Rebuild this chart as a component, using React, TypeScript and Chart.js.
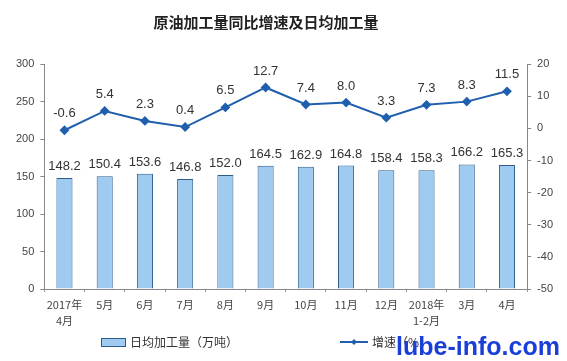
import React, { useEffect, useRef } from "react";
import { Chart, registerables } from "chart.js";

Chart.register(...registerables);

const categories: (string | string[])[] = [
  ["2017年", "4月"], "5月", "6月", "7月", "8月", "9月", "10月", "11月", "12月", ["2018年", "1-2月"], "3月", "4月",
];
const dailyOutput = [148.2, 150.4, 153.6, 146.8, 152.0, 164.5, 162.9, 164.8, 158.4, 158.3, 166.2, 165.3];
const growthRate = [-0.6, 5.4, 2.3, 0.4, 6.5, 12.7, 7.4, 8.0, 3.3, 7.3, 8.3, 11.5];
const leftTicks = [0, 50, 100, 150, 200, 250, 300];
const rightTicks = [-50, -40, -30, -20, -10, 0, 10, 20];

const TITLE = "原油加工量同比增速及日均加工量";
const BAR_LABEL = "日均加工量（万吨）";
const LINE_LABEL = "增速（%）";

const FONT = '"Liberation Sans", "Noto Sans CJK SC", sans-serif';
const CJK = '"Noto Sans CJK SC", "Liberation Sans", sans-serif';

const BAR_FILL = "#9fcbf1";
const BAR_BORDER = "#2b5d8c";
const LINE_COLOR = "#1f5fad";

const overlayPlugin = {
  id: "overlay",
  afterDatasetsDraw(chart: any) {
    const ctx = chart.ctx;
    ctx.save();
    // data labels
    ctx.fillStyle = "#333";
    ctx.font = `13px ${FONT}`;
    ctx.textAlign = "center";
    ctx.textBaseline = "bottom";
    const barMeta = chart.getDatasetMeta(0);
    barMeta.data.forEach((el: any, i: number) => {
      ctx.fillText(dailyOutput[i].toFixed(1), el.x, el.y - 5);
    });
    const lineMeta = chart.getDatasetMeta(1);
    lineMeta.data.forEach((el: any, i: number) => {
      ctx.fillText(growthRate[i].toFixed(1), el.x, el.y - 10);
    });
    // title
    ctx.fillStyle = "#222";
    ctx.font = `bold 15px ${CJK}`;
    ctx.textBaseline = "middle";
    ctx.fillText(TITLE, 266, 22);
    // legend
    const ly = 342;
    ctx.fillStyle = BAR_FILL;
    ctx.strokeStyle = BAR_BORDER;
    ctx.lineWidth = 1;
    ctx.fillRect(101, ly - 4, 24, 8);
    ctx.strokeRect(101.5, ly - 3.5, 24, 8);
    ctx.fillStyle = "#333";
    ctx.font = `12px ${CJK}`;
    ctx.textAlign = "left";
    ctx.fillText(BAR_LABEL, 130, ly);
    ctx.strokeStyle = LINE_COLOR;
    ctx.lineWidth = 2;
    ctx.beginPath();
    ctx.moveTo(340, ly);
    ctx.lineTo(368, ly);
    ctx.stroke();
    ctx.fillStyle = LINE_COLOR;
    ctx.beginPath();
    ctx.moveTo(354, ly - 3);
    ctx.lineTo(357, ly);
    ctx.lineTo(354, ly + 3);
    ctx.lineTo(351, ly);
    ctx.closePath();
    ctx.fill();
    ctx.fillStyle = "#333";
    ctx.fillText(LINE_LABEL, 372, ly);
    ctx.restore();
  },
};

export default function App() {
  const ref = useRef<HTMLCanvasElement>(null);
  useEffect(() => {
    document.body.style.margin = "0";
    const chart = new Chart(ref.current!, {
      type: "bar",
      data: {
        labels: categories,
        datasets: [
          {
            type: "bar",
            label: BAR_LABEL,
            data: dailyOutput,
            backgroundColor: BAR_FILL,
            borderColor: BAR_BORDER,
            borderWidth: 1,
            barPercentage: 0.4,
            categoryPercentage: 1,
            yAxisID: "y",
            order: 2,
          },
          {
            type: "line",
            label: LINE_LABEL,
            data: growthRate,
            borderColor: LINE_COLOR,
            backgroundColor: LINE_COLOR,
            borderWidth: 2,
            pointStyle: "rectRot",
            pointRadius: 3.5,
            yAxisID: "y1",
            order: 1,
          },
        ],
      },
      options: {
        animation: false,
        responsive: false,
        maintainAspectRatio: false,
        layout: { padding: { top: 64, left: 10, right: 8, bottom: 27 } },
        plugins: { legend: { display: false }, tooltip: { enabled: false }, title: { display: false } },
        scales: {
          x: {
            offset: true,
            grid: { display: true, drawOnChartArea: false, offset: true, tickLength: 3, color: "#999" },
            border: { color: "#888" },
            ticks: {
              color: "#444",
              font: { size: 11, family: CJK, lineHeight: 1.45 },
              maxRotation: 0,
              autoSkip: false,
              padding: 5,
            },
          },
          y: {
            position: "left",
            min: 0,
            max: 300,
            afterBuildTicks: (s: any) => { s.ticks = leftTicks.map((v) => ({ value: v })); },
            grid: { drawOnChartArea: false, tickLength: 4, color: "#888" },
            border: { color: "#888" },
            ticks: { color: "#444", font: { size: 11, family: FONT }, padding: 6 },
          },
          y1: {
            position: "right",
            min: -50,
            max: 20,
            afterBuildTicks: (s: any) => { s.ticks = rightTicks.map((v) => ({ value: v })); },
            grid: { drawOnChartArea: false, tickLength: 4, color: "#888" },
            border: { color: "#888" },
            ticks: { color: "#444", font: { size: 11, family: FONT }, padding: 6 },
          },
        },
      },
      plugins: [overlayPlugin],
    } as any);
    return () => chart.destroy();
  }, []);
  return (
    <div style={{ position: "relative", width: 567, height: 361 }}>
      <canvas ref={ref} width={567} height={361} style={{ display: "block" }} />
      <div
        style={{
          position: "absolute",
          left: 396,
          top: 331,
          font: `bold 25px ${FONT}`,
          color: "#1a3fd8",
          lineHeight: "30px",
        }}
      >
        lube-info.com
      </div>
    </div>
  );
}
